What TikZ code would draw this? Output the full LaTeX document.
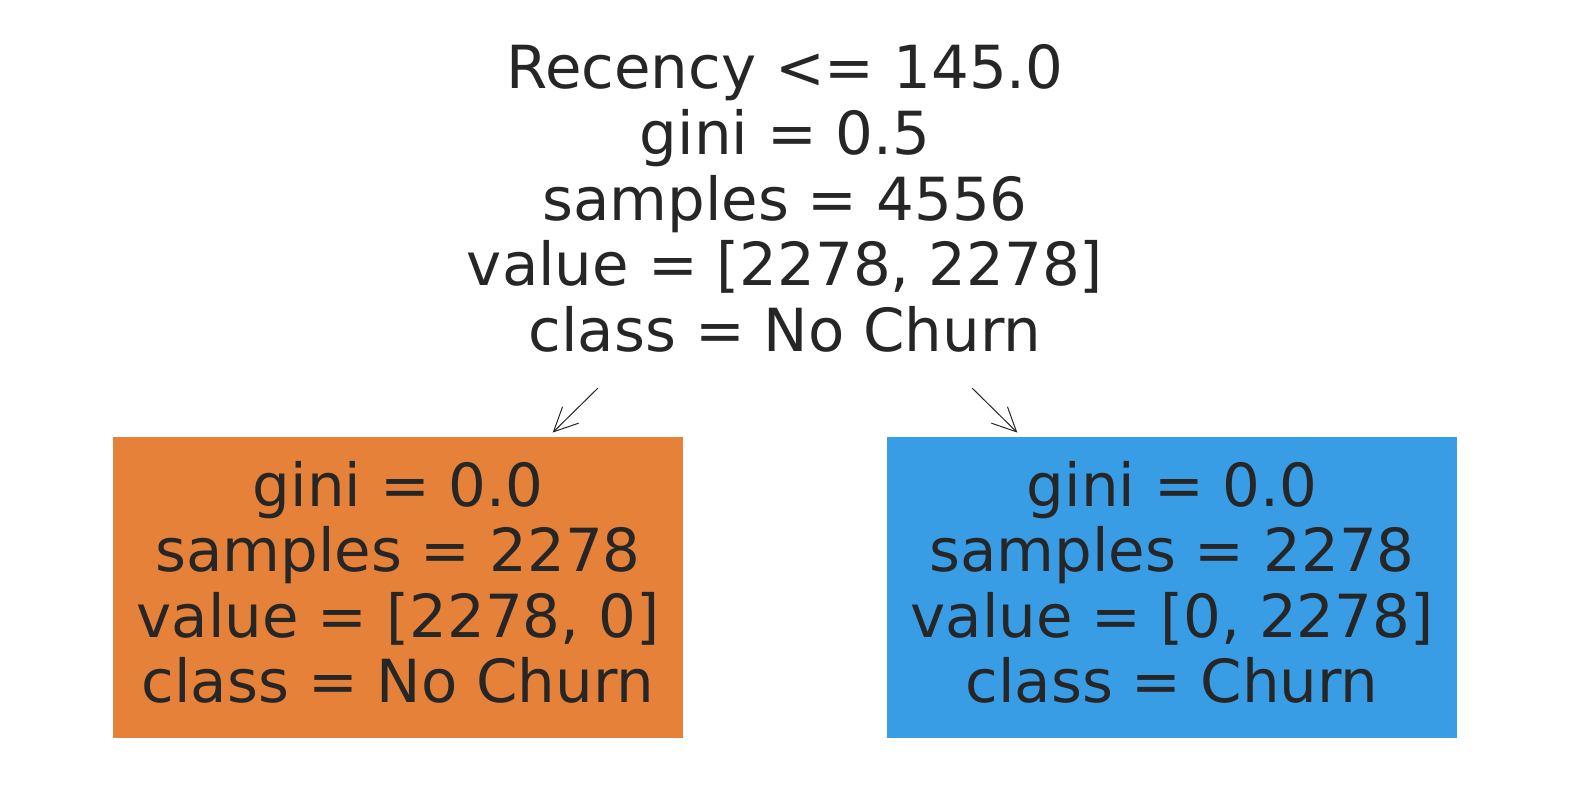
\documentclass[tikz,border=0pt]{standalone}
\usepackage{fontspec}
\setmainfont{DejaVu Sans}
\usetikzlibrary{arrows.meta}
\definecolor{txt}{HTML}{262626}
\definecolor{orng}{HTML}{E58139}
\definecolor{blu}{HTML}{399DE5}
\begin{document}
\begin{tikzpicture}[x=1pt,y=-1pt,
  lbl/.style={font=\fontsize{59.4}{65.6}\selectfont, text=txt, align=center, inner sep=0pt},
  leaf/.style={lbl, minimum width=570pt, minimum height=301pt, text depth=11pt},
  edge/.style={draw=txt, line width=1pt, -{Straight Barb[length=24pt,width=23pt]}, shorten >=6pt}]
\useasboundingbox (0,0) rectangle (1570,790);
\node[lbl, minimum width=660pt, minimum height=374pt, text depth=6pt] (root) at (785,201)
  {Recency <= 145.0\\gini = 0.5\\samples = 4556\\value = [2278, 2278]\\class = No Churn};
\node[leaf, fill=orng] (left) at (398,587.5)
  {gini = 0.0\\samples = 2278\\value = [2278, 0]\\class = No Churn};
\node[leaf, fill=blu] (right) at (1172,587.5)
  {gini = 0.0\\samples = 2278\\value = [0, 2278]\\class = Churn};
\draw[edge] (root) -- (left);
\draw[edge] (root) -- (right);
\end{tikzpicture}
\end{document}
